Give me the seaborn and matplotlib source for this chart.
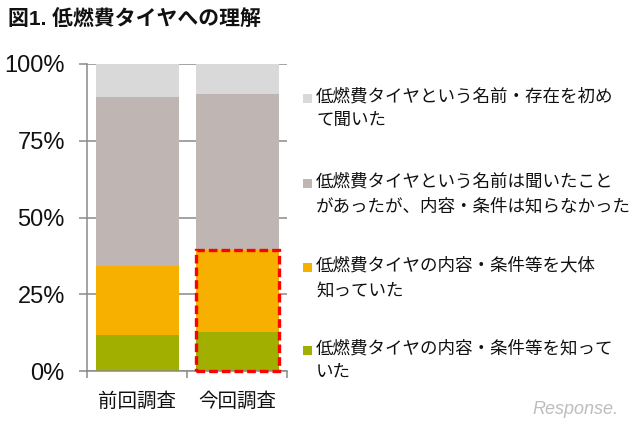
import matplotlib
matplotlib.use("Agg")
import matplotlib.pyplot as plt
import seaborn as sns
import numpy as np
import pandas as pd
from matplotlib.patches import Rectangle

# ---- data ----
categories = ["前回調査", "今回調査"]
knew_details = [11.7, 12.7]        # 内容・条件等を知っていた
knew_roughly = [22.5, 26.7]        # 大体知っていた
heard_name = [55.1, 50.7]          # 名前は聞いたことがあった
first_time = [10.7, 9.9]           # 初めて聞いた
series_labels = [
    "低燃費タイヤという名前・存在を初め\nて聞いた",
    "低燃費タイヤという名前は聞いたこと\nがあったが、内容・条件は知らなかった",
    "低燃費タイヤの内容・条件等を大体\n知っていた",
    "低燃費タイヤの内容・条件等を知って\nいた",
]
yticks = [0, 25, 50, 75, 100]
ytick_labels = ["0%", "25%", "50%", "75%", "100%"]
title = "図1. 低燃費タイヤへの理解"
colors = ["#D9D9D9", "#BFB6B3", "#F8B000", "#A0AF00"]  # top -> bottom

sns.set_theme(style="white")
plt.rcParams["font.family"] = ["Liberation Sans", "Noto Sans CJK JP", "DejaVu Sans"]

fig = plt.figure(figsize=(6.4, 4.3), dpi=100)
ax = fig.add_axes([87 / 640, 1 - 371 / 430, 200 / 640, 307 / 430])

# cumulative stacks drawn from top total down (seaborn stacked-bar style)
stack = np.array([knew_details, knew_roughly, heard_name, first_time])
cum = np.cumsum(stack, axis=0)  # bottom -> top
order_top_down = [3, 2, 1, 0]
for i, level in enumerate(order_top_down):
    df = pd.DataFrame({"cat": categories, "val": cum[level]})
    sns.barplot(data=df, x="cat", y="val", color=colors[i], width=0.83,
                saturation=1, ax=ax, zorder=2, linewidth=0, errorbar=None)

# red dashed highlight around current survey, 0 -> top of "大体知っていた"
bar_w = 0.83
hl_top = cum[1][1]
ax.add_patch(Rectangle((1 - bar_w / 2, 0), bar_w, hl_top, fill=False,
                       edgecolor="#FF0000", linewidth=2.4, linestyle=(0, (2.6, 1.2)),
                       zorder=5, clip_on=False))

ax.set_xlim(-0.5, 1.5)
ax.set_ylim(0, 100)
ax.set_yticks(yticks)
ax.set_yticklabels(ytick_labels, fontsize=17, color="#111111")
ax.set_xticks([0, 1])
ax.set_xticklabels(categories, fontsize=14, color="#111111")
ax.set_xticks([-0.5, 0.5, 1.5], minor=True)
ax.tick_params(axis="x", which="major", length=0, pad=15)
ax.tick_params(axis="x", which="minor", length=5, width=1.1, color="#8A8A8A", direction="out", bottom=True)
ax.tick_params(axis="y", which="major", length=6, width=1.1, color="#8A8A8A", direction="out", pad=10, left=True)
ax.set_xlabel("")
ax.set_ylabel("")
ax.grid(axis="y", color="#8A8A8A", linewidth=1.1, zorder=0)
ax.set_axisbelow(True)
for s in ["top", "right"]:
    ax.spines[s].set_visible(False)
ax.spines["left"].set_color("#8A8A8A")
ax.spines["left"].set_linewidth(1.1)
ax.spines["bottom"].set_color("#8A8A8A")
ax.spines["bottom"].set_linewidth(1.1)

# title
fig.text(8 / 640, 1 - 20 / 430, title, fontsize=15, fontweight="bold",
         va="center", ha="left", color="#111111")

# legend (manual, square aligned with first line)
first_line_y = [98, 183, 267, 350]
for lab, col, yl in zip(series_labels, colors, first_line_y):
    fig.patches.append(Rectangle((303 / 640, 1 - (yl + 4.5) / 430), 9 / 640, 9 / 430,
                                 transform=fig.transFigure, facecolor=col,
                                 edgecolor="none", figure=fig))
    fig.text(316 / 640, 1 - (yl - 10) / 430, lab, fontsize=12.6, va="top", ha="left",
             linespacing=1.65, color="#111111")

# watermark
fig.text(575 / 640, 1 - 410 / 430, "Response.", fontsize=13, color="#BDBDBD",
         ha="center", va="center", style="italic")

fig.savefig("out.png", dpi=100)
